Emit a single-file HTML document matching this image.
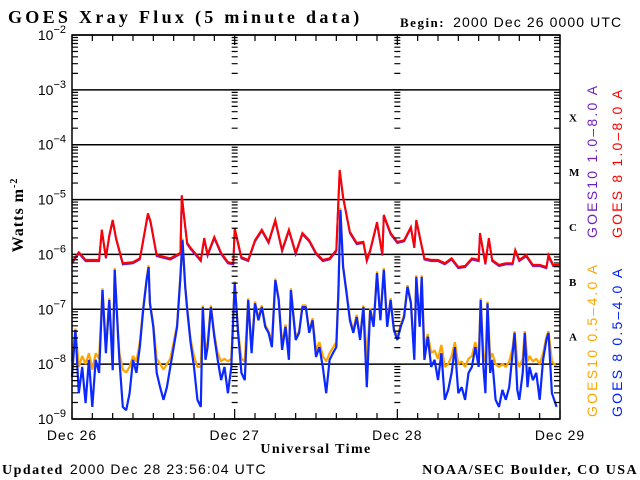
<!DOCTYPE html>
<html><head><meta charset="utf-8">
<style>
html,body{margin:0;padding:0;background:#fff;}
svg{display:block;}
.ser{font-family:"Liberation Serif",serif;font-weight:bold;}
.san{font-family:"Liberation Sans",sans-serif;}
</style></head>
<body>
<svg id="chart" width="640" height="480" viewBox="0 0 640 480">
<text class="ser" x="8" y="23" font-size="18" letter-spacing="3.3">GOES Xray Flux (5 minute data)</text>
<text x="400" y="27" font-size="13"><tspan class="ser" letter-spacing="1.5">Begin:</tspan><tspan class="san" dx="8" font-size="14" letter-spacing="1.1">2000 Dec 26 0000 UTC</tspan></text>
<text class="ser" x="0" y="0" font-size="16" letter-spacing="1" transform="translate(23,215) rotate(-90)" text-anchor="middle">Watts m<tspan font-size="10" dy="-6">-2</tspan></text>
<text class="ser" x="316" y="453" font-size="14" letter-spacing="1.4" text-anchor="middle">Universal Time</text>
<text x="2" y="474" font-size="14"><tspan class="ser" letter-spacing="1.5">Updated</tspan><tspan class="san" dx="6" font-size="14" letter-spacing="1.1">2000 Dec 28 23:56:04 UTC</tspan></text>
<text class="ser" x="638" y="474" font-size="14" letter-spacing="1.4" text-anchor="end">NOAA/SEC Boulder, CO USA</text>
<g id="grid"></g>
<g id="series"></g>
<g id="axes"></g>
<g class="san" font-size="14" letter-spacing="2.2">
<text transform="translate(597,238) rotate(-90)" fill="#7020c0">GOES10 1.0–8.0 A</text>
<text transform="translate(622,238) rotate(-90)" fill="#ff0000">GOES 8 1.0–8.0 A</text>
<text transform="translate(597,417) rotate(-90)" fill="#ffa500">GOES10 0.5–4.0 A</text>
<text transform="translate(622,417) rotate(-90)" fill="#0020ff">GOES 8 0.5–4.0 A</text>
</g>
</svg>
<script>
// ---- data (hours since 2000 Dec 26 00:00 UTC, log10 W/m^2) ----
const dayLabels = ["Dec 26","Dec 27","Dec 28","Dec 29"];
const decadeExps = [-2,-3,-4,-5,-6,-7,-8,-9];
const classLabels = ["X","M","C","B","A"];
const longHours = [0,1,2,3,4,4.4,5,5.5,6,6.5,7.5,9,10,10.3,11.2,11.6,12.5,14.5,16,16.2,16.6,17,17.5,19,19.5,20,21,22,23,23.8,24,25,26,27,28,29,30,31,32,33,34,35,36,37,38,39,39.5,40,41,42,43,43.5,44,45,45.8,46,47,48,49,50,50.5,50.8,52,53,54,55,56,57,58,59,60,60.2,61,61.5,62,63,64,65,65.4,66,67,68,69,70,70.3,71,72];
const longG8 = [-6.14,-5.96,-6.10,-6.10,-6.10,-5.55,-6.05,-5.65,-5.37,-5.70,-6.16,-6.14,-6.07,-5.88,-5.25,-5.40,-6.01,-6.07,-5.97,-4.92,-5.37,-5.79,-5.88,-6.10,-5.70,-6.00,-5.68,-5.97,-6.14,-6.16,-5.52,-6.05,-6.10,-5.74,-5.55,-5.77,-5.37,-5.92,-5.55,-5.97,-5.61,-5.74,-5.97,-6.10,-6.07,-5.92,-4.46,-4.95,-5.59,-5.79,-5.77,-6.10,-5.92,-5.41,-6.00,-5.28,-5.61,-5.77,-5.74,-5.50,-5.86,-5.37,-6.07,-6.10,-6.10,-6.16,-6.07,-6.23,-6.21,-6.07,-6.10,-5.61,-6.16,-5.70,-6.10,-6.19,-6.16,-6.16,-5.92,-6.10,-6.01,-6.19,-6.19,-6.23,-6.01,-6.19,-6.19];
const shortHours = [0,0.5,1,1.5,2,2.5,3,3.5,4,4.5,5,5.5,6,6.3,6.8,7,7.5,8,8.5,9,9.5,10,10.5,11,11.3,11.5,12,12.5,13,13.5,14,14.5,15,15.5,16,16.3,16.7,17,17.5,18,18.5,19,19.3,19.7,20,20.5,21,21.5,22,22.5,23,23.5,24,24.5,25,25.5,26,26.5,27,27.5,28,28.5,29,29.5,30,30.5,31,31.5,32,32.3,33,33.5,34,34.5,35,35.5,36,36.5,37,37.5,38,38.5,39,39.3,39.6,40,40.5,41,41.5,42,42.5,43,43.5,44,44.5,45,45.5,46,46.5,47,47.5,48,48.5,49,49.5,50,50.5,50.8,51.3,51.6,52,52.5,53,53.5,54,54.5,55,55.5,56,56.5,57,57.5,58,58.5,59,59.5,60,60.3,60.7,61,61.3,61.7,62,62.5,63,63.5,64,64.5,65,65.3,65.7,66,66.5,66.8,67.2,67.5,68,68.5,69,69.5,70,70.3,70.8,71.5,72];
const shortG8 = [-8.23,-7.38,-8.53,-8.05,-8.71,-7.92,-8.78,-7.92,-8.16,-6.65,-7.80,-6.83,-8.11,-6.28,-7.50,-7.92,-8.78,-8.84,-8.53,-7.92,-8.16,-7.69,-7.01,-6.47,-6.23,-6.89,-7.32,-8.16,-8.42,-8.65,-8.42,-8.05,-7.69,-7.32,-6.41,-5.74,-6.59,-7.01,-7.61,-8.05,-8.65,-8.78,-6.96,-7.92,-7.69,-6.96,-7.50,-7.92,-8.29,-8.05,-8.53,-8.05,-6.52,-7.43,-8.16,-8.29,-6.83,-7.80,-6.89,-7.20,-6.96,-7.32,-7.43,-7.69,-6.47,-6.83,-7.74,-7.32,-7.92,-6.65,-7.56,-7.43,-6.96,-6.96,-7.43,-7.20,-7.87,-7.69,-8.05,-8.53,-7.92,-7.80,-7.69,-6.70,-5.19,-6.23,-6.70,-7.20,-7.43,-7.14,-7.56,-6.96,-8.42,-7.01,-7.32,-6.34,-7.20,-6.28,-7.32,-6.83,-7.38,-7.56,-7.32,-7.14,-6.59,-6.89,-7.92,-6.41,-7.32,-6.41,-7.92,-7.50,-8.05,-7.92,-8.29,-7.80,-8.65,-8.47,-8.16,-7.69,-8.53,-8.42,-8.65,-8.16,-8.05,-7.69,-8.05,-6.83,-8.05,-8.53,-6.89,-8.16,-7.92,-8.65,-8.78,-8.47,-8.65,-8.42,-7.80,-7.43,-8.47,-8.65,-8.16,-7.43,-8.42,-8.05,-8.29,-8.16,-8.65,-7.92,-7.56,-7.43,-8.53,-8.78];
const shortG10 = [-7.95,-7.35,-8.05,-7.85,-8.00,-7.80,-8.10,-7.80,-7.90,-6.62,-7.70,-6.80,-7.95,-6.25,-7.45,-7.80,-8.10,-8.15,-8.05,-7.85,-7.95,-7.60,-6.97,-6.44,-6.20,-6.86,-7.28,-7.90,-8.00,-8.10,-8.00,-7.90,-7.60,-7.28,-6.38,-5.71,-6.56,-6.97,-7.55,-7.85,-8.05,-8.05,-6.93,-7.80,-7.60,-6.93,-7.45,-7.80,-7.95,-7.90,-7.95,-7.90,-6.49,-7.40,-7.90,-7.95,-6.80,-7.70,-6.86,-7.16,-6.93,-7.28,-7.40,-7.60,-6.44,-6.80,-7.65,-7.28,-7.80,-6.62,-7.50,-7.40,-6.93,-6.93,-7.40,-7.16,-7.75,-7.60,-7.85,-7.95,-7.80,-7.70,-7.60,-6.67,-5.16,-6.20,-6.67,-7.16,-7.38,-7.10,-7.50,-6.93,-7.90,-6.98,-7.28,-6.31,-7.16,-6.25,-7.28,-6.80,-7.35,-7.50,-7.28,-7.10,-6.56,-6.86,-7.80,-6.38,-7.28,-6.38,-7.70,-7.45,-7.80,-7.75,-7.90,-7.65,-8.05,-8.00,-7.85,-7.60,-8.00,-7.95,-8.05,-7.90,-7.85,-7.60,-7.85,-6.80,-7.85,-7.95,-6.86,-7.90,-7.80,-8.00,-8.05,-8.00,-8.05,-7.95,-7.70,-7.40,-7.95,-8.05,-7.90,-7.40,-7.95,-7.85,-7.95,-7.90,-8.00,-7.80,-7.50,-7.40,-7.95,-8.05];
// ---- axis functions ----
const X0=72, X1=560, Y0=35, Y1=419;
const xScale = h => X0 + (X1-X0)*h/72;
const yScale = l => Y0 + (Y1-Y0)*(-2 - l)/7;
const NS="http://www.w3.org/2000/svg";
function mk(tag, attrs, parent){const e=document.createElementNS(NS,tag);for(const k in attrs)e.setAttribute(k,attrs[k]);parent.appendChild(e);return e;}
const grid=document.getElementById('grid'), axes=document.getElementById('axes'), ser=document.getElementById('series');
decadeExps.forEach(e=>{
  const y=yScale(e);
  const ln=mk('line',{x1:X0,x2:X1,y1:y,y2:y,stroke:'#000','stroke-width':1.5},grid);
  
  
  const t=mk('text',{x:66,y:y+5,'text-anchor':'end','font-size':14,'font-family':'Liberation Sans, sans-serif'},axes);
  
  
  t.textContent='10';
  const sp=mk('tspan',{dy:-7,'font-size':11},t); sp.textContent='−'+(-e);
});
let tickD='';
for(let e=-9;e<-2;e++){
  for(let m=2;m<=9;m++){
    const y=yScale(e+Math.log10(m));
    tickD+=`M${X0},${y}h6M${X1},${y}h-6`;
    [1,2].forEach(d=>{const x=xScale(24*d);tickD+=`M${x-3},${y}h6`;});
  }
}
decadeExps.forEach(e=>{const y=yScale(e);[1,2].forEach(d=>{const x=xScale(24*d);tickD+=`M${x-4},${y}h8`;});});
for(let h=0;h<=72;h+=3){const x=xScale(h);const L=(h%24===0)?10:6;tickD+=`M${x},${Y1}v${-L}M${x},${Y0}v${L}`;}
const tk=mk('path',{d:tickD,stroke:'#000','stroke-width':1.2,fill:'none'},axes);


const fr=mk('rect',{x:X0,y:Y0,width:X1-X0,height:Y1-Y0,fill:'none',stroke:'#000','stroke-width':1.5},axes);


dayLabels.forEach((d,i)=>{
  const t=mk('text',{x:xScale(24*i),y:440,'text-anchor':'middle','font-size':14,'letter-spacing':1,'font-family':'Liberation Sans, sans-serif'},axes);
  
  
  t.textContent=d;
});
classLabels.forEach((c,i)=>{
  const t=mk('text',{x:569,y:yScale(-3.5-i)+4,'font-size':11,'font-family':'Liberation Serif, serif','font-weight':'bold'},axes);
  
  
  t.textContent=c;
});
function linePath(hs,vs,dy){let d='';for(let i=0;i<hs.length;i++){const x=xScale(hs[i]).toFixed(1),y=(yScale(vs[i])+dy).toFixed(1);d+=(i?'L':'M')+x+','+y;}return d;}
const p1=mk('path',{d:linePath(shortHours,shortG10,0),stroke:'#ffa500','stroke-width':2.2,fill:'none','stroke-linejoin':'bevel'},ser);


const p2=mk('path',{d:linePath(shortHours,shortG8,0),stroke:'#0a28ff','stroke-width':2.2,fill:'none','stroke-linejoin':'bevel'},ser);


const p3=mk('path',{d:linePath(longHours,longG8,1.2),stroke:'#7020c0','stroke-width':2,fill:'none'},ser);


const p4=mk('path',{d:linePath(longHours,longG8,0),stroke:'#ff0000','stroke-width':2,fill:'none'},ser);


</script>
</body></html>
